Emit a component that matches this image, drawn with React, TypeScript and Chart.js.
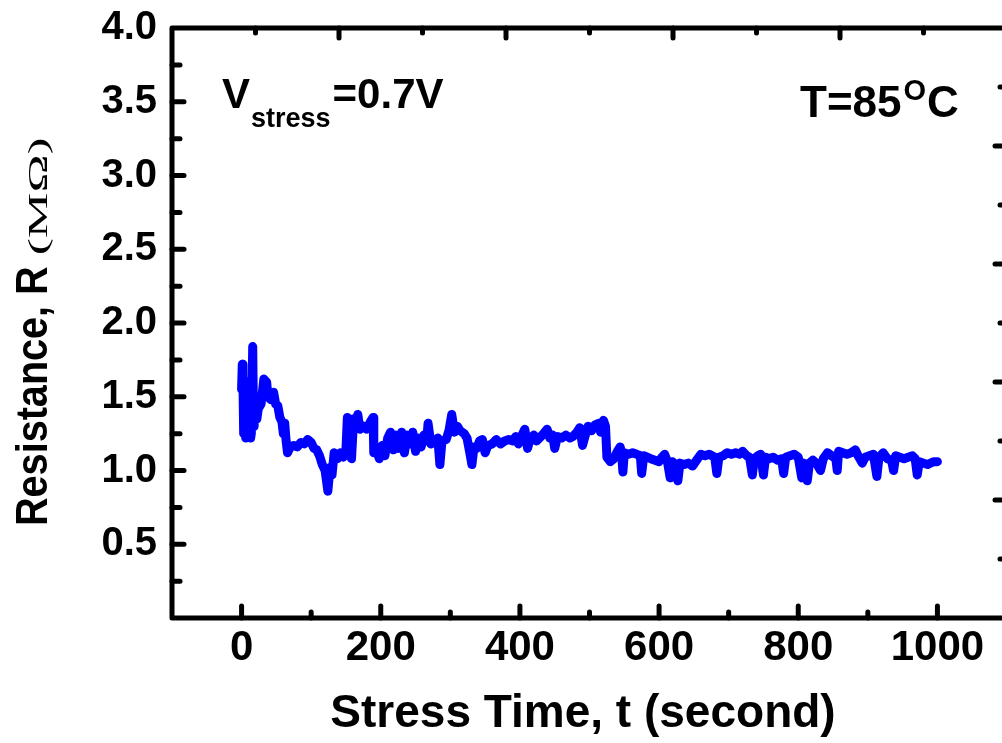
import React, { useEffect, useRef } from "react";
import { Chart, registerables } from "chart.js";

Chart.register(...registerables);

// ---- data ----
const TIME = [
  0, 1, 2, 3, 4, 5, 6, 7, 8, 9,
  10, 11, 12, 13, 14, 16, 17, 18, 20, 22,
  24, 28, 32, 36, 38, 42, 46,
  49, 52, 55, 58, 60, 62, 64, 66, 70, 75,
  80, 85, 90, 95, 100, 104, 108, 112, 116, 120,
  124, 127, 130, 133, 138, 142, 146, 150, 152, 155,
  158, 161, 164, 167, 170, 175, 180, 185, 189, 190,
  195, 198, 202, 206, 210, 214, 218, 222, 226, 230,
  234, 238, 242, 246, 250, 254, 258, 262, 266, 268,
  272, 278, 282, 285, 288, 294, 298, 302, 306, 310,
  314, 320, 324, 328, 331, 334, 338, 342, 346, 350,
  354, 360, 366, 372, 378, 384, 390, 394, 398, 403,
  407, 411, 415, 420, 424, 428, 434, 439, 443, 447,
  450, 454, 460, 466, 472, 476, 482, 486, 490, 494,
  498, 503, 508, 513, 516, 520, 523, 525, 530, 535,
  540, 544, 546, 548, 550, 556, 562, 568, 573, 575,
  578, 583, 588, 594, 600, 604, 608, 612, 616, 619,
  624, 627, 630, 636, 642, 648, 654, 660, 666, 672,
  680, 683, 686, 692, 698, 704, 710, 716, 720, 726,
  730, 734, 737, 742, 746, 750, 753, 758, 764, 770,
  776, 779, 782, 788, 794, 800, 805, 808, 813, 816,
  821, 826, 832, 836, 842, 848, 854, 856, 858, 864,
  870, 876, 882, 886, 892, 896, 902, 908, 913, 916,
  922, 928, 934, 937, 940, 946, 952, 958, 964, 968,
  971, 974, 980, 986, 990, 995, 1000,
];

const RESISTANCE = [
  1.55, 1.72, 1.60, 1.25, 1.50, 1.45, 1.22, 1.55, 1.60, 1.28,
  1.30, 1.50, 1.55, 1.22, 1.25, 1.84, 1.40, 1.30, 1.50, 1.35,
  1.42, 1.45, 1.62, 1.60, 1.50, 1.48, 1.53,
  1.45, 1.44, 1.36, 1.33, 1.25, 1.32, 1.20, 1.12, 1.16, 1.17,
  1.16, 1.19, 1.18, 1.21, 1.19, 1.15, 1.14, 1.10, 1.04, 1.00,
  0.86, 1.02, 0.97, 1.12, 1.08, 1.12, 1.09, 1.14, 1.36, 1.30,
  1.08, 1.35, 1.32, 1.38, 1.28, 1.30, 1.28, 1.33, 1.36, 1.12,
  1.12, 1.08, 1.17, 1.10, 1.22, 1.26, 1.14, 1.24, 1.15, 1.26,
  1.12, 1.24, 1.18, 1.26, 1.13, 1.22, 1.16, 1.24, 1.20, 1.32,
  1.18, 1.20, 1.22, 1.04, 1.20, 1.21, 1.27, 1.38, 1.26, 1.30,
  1.27, 1.25, 1.22, 1.12, 1.04, 1.16, 1.15, 1.20, 1.21, 1.12,
  1.17, 1.18, 1.21, 1.18, 1.20, 1.21, 1.20, 1.23, 1.18, 1.24,
  1.28, 1.15, 1.22, 1.24, 1.20, 1.22, 1.25, 1.28, 1.22, 1.24,
  1.15, 1.23, 1.22, 1.24, 1.22, 1.23, 1.26, 1.29, 1.17, 1.24,
  1.30, 1.27, 1.31, 1.32, 1.26, 1.34, 1.30, 1.09, 1.06, 1.08,
  1.13, 1.16, 1.12, 0.99, 1.12, 1.11, 1.12, 1.11, 1.10, 0.98,
  1.10, 1.09, 1.08, 1.07, 1.06, 1.09, 1.11, 1.06, 0.95, 1.06,
  1.04, 0.93, 1.05, 1.04, 1.05, 1.03, 1.07, 1.11, 1.10, 1.11,
  1.09, 0.98, 1.09, 1.10, 1.12, 1.11, 1.12, 1.11, 1.13, 1.10,
  1.09, 0.97, 1.08, 1.10, 1.11, 0.97, 1.09, 1.08, 1.09, 1.07,
  1.08, 0.98, 1.09, 1.10, 1.11, 1.09, 0.95, 1.05, 0.93, 1.05,
  1.07, 1.05, 1.00, 1.08, 1.12, 1.10, 1.08, 1.00, 1.13, 1.12,
  1.11, 1.12, 1.14, 1.10, 1.05, 1.09, 1.10, 1.11, 0.96, 1.09,
  1.12, 1.08, 1.07, 1.00, 1.10, 1.09, 1.08, 1.09, 1.10, 1.08,
  0.97, 1.06, 1.05, 1.04, 1.05, 1.06, 1.06,
];

const X_MAJOR_TICKS = [0, 200, 400, 600, 800, 1000];
const X_MINOR_TICKS = [100, 300, 500, 700, 900];
const Y_MAJOR_TICKS = [0.5, 1.0, 1.5, 2.0, 2.5, 3.0, 3.5, 4.0];
const Y_MINOR_TICKS = [0.25, 0.75, 1.25, 1.75, 2.25, 2.75, 3.25, 3.75];
const MIRROR_FRACTIONS = [0.1, 0.2, 0.3, 0.4, 0.5, 0.6, 0.7, 0.8, 0.9];

const X_TITLE = "Stress Time, t (second)";
const Y_TITLE_MAIN = "Resistance, R ";
const Y_TITLE_UNIT = "(MΩ)";

const SANS = '"Liberation Sans", Arial, sans-serif';
const SERIF = '"Liberation Serif", "Times New Roman", serif';

const framePlugin = {
  id: "framePlugin",
  afterDatasetsDraw(chart: any) {
    const { ctx, chartArea: a, scales } = chart;
    const xs = scales.x;
    const ys = scales.y;
    const w = a.right - a.left;
    const h = a.bottom - a.top;
    ctx.save();
    ctx.strokeStyle = "#000";
    ctx.lineWidth = 5;
    ctx.lineJoin = "round";
    ctx.lineCap = "round";
    const seg = (x1: number, y1: number, x2: number, y2: number) => {
      ctx.beginPath();
      ctx.moveTo(x1, y1);
      ctx.lineTo(x2, y2);
      ctx.stroke();
    };
    X_MAJOR_TICKS.forEach((v) => {
      const p = xs.getPixelForValue(v);
      seg(p, a.bottom, p, a.bottom - 12);
    });
    X_MINOR_TICKS.forEach((v) => {
      const p = xs.getPixelForValue(v);
      seg(p, a.bottom, p, a.bottom - 6);
    });
    Y_MAJOR_TICKS.forEach((v) => {
      if (v >= 4) return;
      const p = ys.getPixelForValue(v);
      seg(a.left, p, a.left + 12, p);
    });
    Y_MINOR_TICKS.forEach((v) => {
      const p = ys.getPixelForValue(v);
      seg(a.left, p, a.left + 8, p);
    });
    MIRROR_FRACTIONS.forEach((f, i) => {
      const major = i % 2 === 1;
      const px = a.left + f * w;
      seg(px, a.top, px, a.top + (major ? 10 : 5));
      const py = a.top + f * h;
      seg(a.right, py, a.right - (major ? 12 : 7), py);
    });
    ctx.strokeRect(a.left, a.top, w, h);
    ctx.restore();
  },
  afterDraw(chart: any) {
    const { ctx } = chart;
    ctx.save();
    ctx.fillStyle = "#000";
    ctx.textBaseline = "alphabetic";
    ctx.textAlign = "left";

    // V_stress = 0.7V
    ctx.font = `bold 42px ${SANS}`;
    let x = 222;
    ctx.fillText("V", x, 108);
    x += ctx.measureText("V").width + 1;
    ctx.font = `bold 27px ${SANS}`;
    ctx.fillText("stress", x, 127);
    x += ctx.measureText("stress").width + 2;
    ctx.font = `bold 42px ${SANS}`;
    ctx.fillText("=0.7V", x, 108);

    // T = 85 oC
    ctx.font = `bold 44px ${SANS}`;
    x = 800;
    ctx.fillText("T=85", x, 117);
    x += ctx.measureText("T=85").width + 2;
    ctx.font = `bold 29px ${SANS}`;
    ctx.fillText("O", x, 100);
    x += ctx.measureText("O").width + 1;
    ctx.font = `bold 44px ${SANS}`;
    ctx.fillText("C", x, 117);

    // x title
    ctx.font = `bold 46px ${SANS}`;
    ctx.textAlign = "center";
    ctx.fillText(X_TITLE, 583, 727);

    // y title (rotated)
    ctx.translate(47, 526);
    ctx.rotate(-Math.PI / 2);
    ctx.textAlign = "left";
    ctx.save();
    ctx.scale(0.9, 1);
    ctx.font = `bold 44px ${SANS}`;
    ctx.fillText(Y_TITLE_MAIN, 0, 0);
    const mw = ctx.measureText(Y_TITLE_MAIN).width * 0.9;
    ctx.restore();
    ctx.translate(mw, 0);
    ctx.scale(1.9, 1);
    ctx.font = `27px ${SERIF}`;
    ctx.fillText(Y_TITLE_UNIT, 0, 0);
    ctx.restore();
  },
};

export default function App() {
  const canvasRef = useRef<HTMLCanvasElement | null>(null);

  useEffect(() => {
    const canvas = canvasRef.current;
    if (!canvas) return;
    const points = TIME.map((t, i) => ({ x: t, y: RESISTANCE[i] }));
    const chart = new Chart(canvas, {
      type: "line",
      data: {
        datasets: [
          {
            data: points,
            borderColor: "#0000ff",
            borderWidth: 9,
            pointRadius: 0,
            tension: 0,
            fill: false,
            borderJoinStyle: "round",
            borderCapStyle: "round",
          },
        ],
      },
      options: {
        animation: false,
        responsive: false,
        maintainAspectRatio: false,
        devicePixelRatio: 1,
        layout: { padding: { top: 28, right: 9, bottom: 0, left: 0 } },
        plugins: {
          legend: { display: false },
          tooltip: { enabled: false },
          title: { display: false },
        },
        scales: {
          x: {
            type: "linear",
            min: -100,
            max: 1100,
            grid: { display: false, drawTicks: false },
            border: { display: false },
            afterFit: (s: any) => {
              s.height = 125;
            },
            afterBuildTicks: (s: any) => {
              s.ticks = X_MAJOR_TICKS.map((v) => ({ value: v }));
            },
            ticks: {
              color: "#000",
              padding: 9,
              maxRotation: 0,
              autoSkip: false,
              font: { family: SANS, size: 42, weight: "bold", lineHeight: 1 },
              callback: (v: any) => String(v),
            },
          },
          y: {
            type: "linear",
            min: 0,
            max: 4,
            grid: { display: false, drawTicks: false },
            border: { display: false },
            afterFit: (s: any) => {
              s.width = 172;
            },
            afterBuildTicks: (s: any) => {
              s.ticks = Y_MAJOR_TICKS.map((v) => ({ value: v }));
            },
            ticks: {
              color: "#000",
              padding: 15,
              autoSkip: false,
              font: { family: SANS, size: 40, weight: "bold", lineHeight: 0.6 },
              callback: (v: any) => Number(v).toFixed(1),
            },
          },
        },
      },
      plugins: [framePlugin],
    } as any);
    return () => chart.destroy();
  }, []);

  return (
    <div
      style={{
        position: "fixed",
        left: 0,
        top: 0,
        width: 1002,
        height: 743,
        overflow: "hidden",
        background: "#fff",
      }}
    >
      <canvas ref={canvasRef} width={1016} height={743} style={{ display: "block" }} />
    </div>
  );
}
